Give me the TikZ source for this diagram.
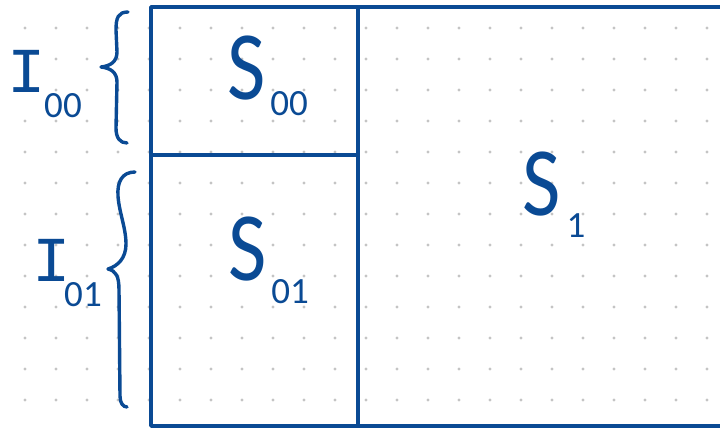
\documentclass[tikz,border=0pt]{standalone}
\usepackage{fontspec}
\setmainfont{Carlito}
\newfontfamily\monofam{Liberation Mono}
\definecolor{ink}{RGB}{10,74,148}
\definecolor{dotgray}{RGB}{196,196,196}
\begin{document}
\begin{tikzpicture}[x=1pt,y=-1pt,
  ink/.style={draw=ink,line width=3.4pt,line cap=round,line join=round},
  bigS/.style={text=ink,inner sep=0pt,font=\fontsize{98}{98}\selectfont,xscale=0.85,transform shape},
  bigI/.style={text=ink,inner sep=0pt,font=\monofam\fontsize{64}{64}\selectfont},
  subt/.style={text=ink,inner sep=0pt,font=\fontsize{37}{37}\selectfont}]
\useasboundingbox (0,0) rectangle (720,428);
\fill[white] (0,0) rectangle (720,428);
\clip (0,0) rectangle (720,428);
% dot grid
\foreach \i in {0,...,22}{
  \foreach \j in {0,...,12}{
    \fill[dotgray] (25+31*\i,28+31*\j) circle (1.6pt);
  }
}
% boxes
\draw[ink,line cap=butt] (151,7) rectangle (740,426);
\draw[ink,line cap=butt] (358,7) -- (358,426);
\draw[ink,line cap=butt] (151,155) -- (358,155);
% labels
\node[bigS] (s00) at (247,68) {S};
\node[subt] (s00sub) at (289,104) {00};
\node[bigS] (s01) at (248,249) {S};
\node[subt] (s01sub) at (290,292) {01};
\node[bigS] (s1) at (542,184) {S};
\node[subt] (s1sub) at (576,226) {1};
\node[bigI] (i00) at (27,71) {I};
\node[subt] (i00sub) at (63,106) {00};
\node[bigI] (i01) at (52,260) {I};
\node[subt] (i01sub) at (83,295) {01};
% braces
\draw[ink] (128,12) .. controls (118,12) and (116,18) .. (116,30)
  -- (117,52) .. controls (117,62) and (110,66) .. (101,67)
  .. controls (110,68) and (117,72) .. (117,82)
  -- (116,128) .. controls (116,138) and (120,143) .. (127,143);
\draw[ink] (135,172) .. controls (122,172) and (117,182) .. (118,196)
  .. controls (119,212) and (126,228) .. (126,244)
  .. controls (126,258) and (118,266) .. (108,269)
  .. controls (116,271) and (119,276) .. (119,290)
  -- (120,396) .. controls (120,403) and (123,407) .. (127,407);
\end{tikzpicture}
\end{document}
